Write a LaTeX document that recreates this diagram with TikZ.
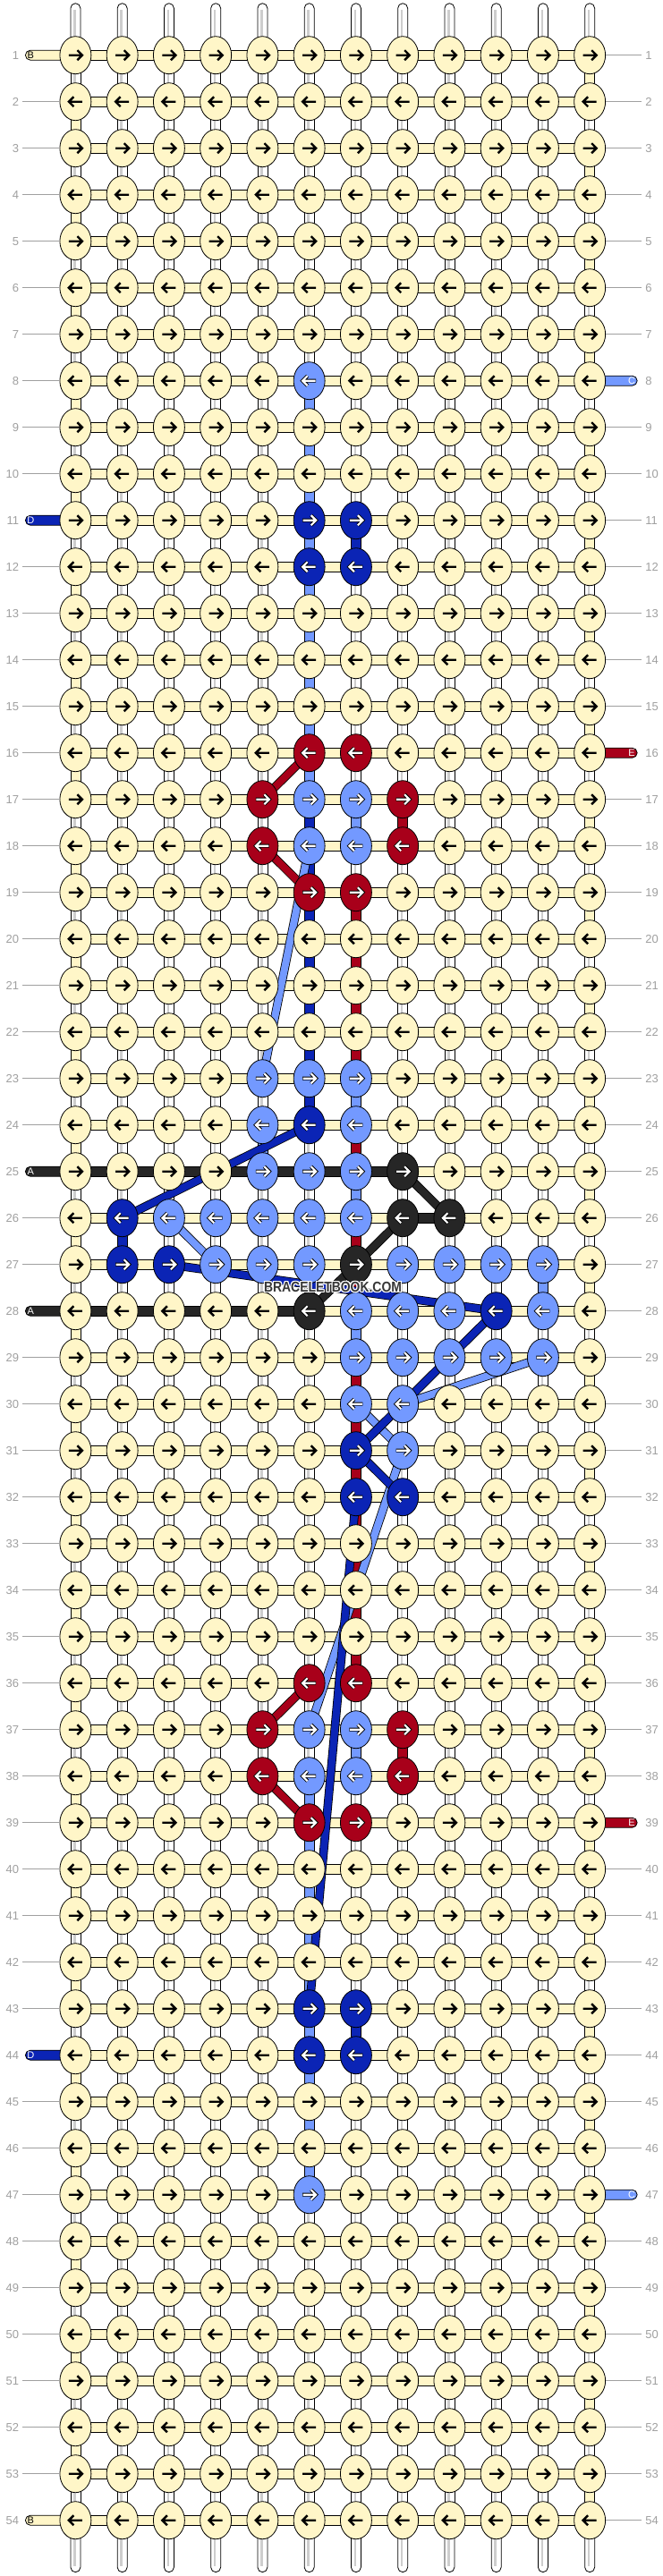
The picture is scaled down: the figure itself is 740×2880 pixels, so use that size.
\documentclass[tikz,border=0pt]{standalone}
\usepackage{fontspec}
\setmainfont{Liberation Sans}
\usetikzlibrary{calc,shapes.geometric}
\definecolor{knotY}{RGB}{255,246,200}
\definecolor{knotL}{RGB}{115,153,255}
\definecolor{knotD}{RGB}{11,36,181}
\definecolor{knotR}{RGB}{168,0,26}
\definecolor{knotK}{RGB}{38,38,38}
\definecolor{labelColor}{RGB}{160,160,160}
\definecolor{stringColor}{RGB}{205,205,205}
\definecolor{markColor}{RGB}{55,55,55}
\newcommand{\setcolors}[3]{%
  \foreach \rr/\cc in {#3}{\expandafter\xdef\csname #1-\rr-\cc\endcsname{#2}}}
\setcolors{kn}{knotL}{8/6,17/6,17/7,18/6,18/7,23/5,23/6,23/7,24/5,24/7,25/5,25/6,25/7,26/3,26/4,26/5,26/6,26/7,27/4,27/5,27/6,27/8,27/9,27/10,27/11,28/7,28/8,28/9,28/11,29/7,29/8,29/9,29/10,29/11,30/7,30/8,31/8,37/6,37/7,38/6,38/7,47/6}
\setcolors{kn}{knotD}{11/6,11/7,12/6,12/7,24/6,26/2,27/2,27/3,28/10,31/7,32/7,32/8,43/6,43/7,44/6,44/7}
\setcolors{kn}{knotR}{16/6,16/7,17/5,17/8,18/5,18/8,19/6,19/7,36/6,36/7,37/5,37/8,38/5,38/8,39/6,39/7}
\setcolors{kn}{knotK}{25/8,26/8,26/9,27/7,28/6}
\setcolors{hc}{knotK}{25/1,25/2,25/3,25/4,25/5,25/6,25/7,26/8,28/1,28/2,28/3,28/4,28/5}
\setcolors{vc}{knotL}{8/6,9/6,10/6,11/6,12/6,13/6,14/6,15/6,16/6,17/7,23/7,25/7,28/7,24/5,27/11,37/7,38/6,39/6,40/6,41/6,42/6,43/6,44/6,45/6,46/6}
\setcolors{vc}{knotD}{17/6,18/6,19/6,20/6,21/6,22/6,23/6,11/7,43/7,26/2}
\setcolors{vc}{knotR}{17/8,37/8,19/7,20/7,21/7,22/7,24/7,26/7,27/7,29/7,30/7,31/7,32/7,33/7,34/7,35/7}
\def\nonename{none}
\def\yname{knotY}
\begin{document}
\begin{tikzpicture}[x=1pt,y=-1pt,
  knotnode/.style={ellipse,draw=black,line width=0.8pt,minimum width=35pt,minimum height=42pt,inner sep=0pt},
  barline/.style={draw=black,line width=0.8pt},
  strand/.style={draw=black,line width=9.6pt,postaction={draw=#1,line width=8pt}},
  arrowline/.style={line width=2.4pt,line join=miter,miter limit=4},
  rowlabel/.style={text=labelColor,font=\fontsize{13}{13}\selectfont,inner sep=0pt},
  leader/.style={draw=labelColor,line width=0.8pt},
  tabtext/.style={font=\fontsize{11}{11}\selectfont,inner sep=0pt},
  watermark/.style={font=\fontsize{16}{16}\bfseries\selectfont,xscale=0.87,text=markColor,inner sep=0pt}]
\fill[white] (0,0) rectangle (740,2880);
\useasboundingbox (0,0) rectangle (740,2880);

\foreach \i in {1,...,54}{
  \foreach \j in {1,...,12}{
    \coordinate (p-\i-\j) at ({84.4+52.25*(\j-1)},{61.7+52*(\i-1)});
  }
}

\foreach \j in {1,...,12}{
  \draw[barline,fill=white,rounded corners=5.5pt] ($(p-1-\j)+(-5.5,-58)$) rectangle ($(p-1-\j)+(5.5,-10)$);
  \draw[stringColor,line width=2.5pt] ($(p-1-\j)+(-1,-51)$) -- ($(p-1-\j)+(-1,-12)$);
  \draw[barline,fill=white,rounded corners=5.5pt] ($(p-54-\j)+(-5.5,10)$) rectangle ($(p-54-\j)+(5.5,58)$);
  \draw[stringColor,line width=2.5pt] ($(p-54-\j)+(-1,12)$) -- ($(p-54-\j)+(-1,51)$);
}

\foreach \i in {1,...,53}{
  \pgfmathtruncatemacro\ii{\i+1}
  \foreach \j in {1,...,12}{
    \def\vcol{none}
    \ifodd\i\relax
      \ifnum\j=12\relax\def\vcol{knotY}\fi
    \else
      \ifnum\j=1\relax\def\vcol{knotY}\fi
    \fi
    \ifcsname vc-\i-\j\endcsname\edef\vcol{\csname vc-\i-\j\endcsname}\fi
    \ifx\vcol\nonename
      \draw[barline,fill=white] ($(p-\i-\j)+(-5.5,0)$) rectangle ($(p-\ii-\j)+(5.5,0)$);
      \draw[stringColor,line width=2.5pt] ($(p-\i-\j)+(-1,0)$) -- ($(p-\ii-\j)+(-1,0)$);
    \else
      \draw[barline,fill=\vcol] ($(p-\i-\j)+(-5.5,0)$) rectangle ($(p-\ii-\j)+(5.5,0)$);
    \fi
  }
}

\foreach \i in {1,...,54}{
  \foreach \j in {1,...,11}{
    \pgfmathtruncatemacro\jj{\j+1}
    \ifcsname hc-\i-\j\endcsname\edef\hcol{\csname hc-\i-\j\endcsname}\else\def\hcol{knotY}\fi
    \draw[barline,fill=\hcol] ($(p-\i-\j)+(0,-5.5)$) rectangle ($(p-\i-\jj)+(0,5.5)$);
  }
}

\foreach \i/\tcol/\tlet/\lcol in {1/knotY/B/black,11/knotD/D/white,25/knotK/A/white,28/knotK/A/white,44/knotD/D/white,54/knotY/B/black}{
  \expandafter\xdef\csname lt-\i\endcsname{1}
  \draw[barline,fill=\tcol,rounded corners=5.5pt] ($(p-\i-1)+(-56,-5.5)$) rectangle ($(p-\i-1)+(0,5.5)$);
  \node[tabtext,text=\lcol] (lt-\i) at ($(p-\i-1)+(-50,0)$) {\tlet};
}
\foreach \i/\tcol/\tlet/\lcol in {8/knotL/C/white,16/knotR/E/white,39/knotR/E/white,47/knotL/C/white}{
  \expandafter\xdef\csname rt-\i\endcsname{1}
  \draw[barline,fill=\tcol,rounded corners=5.5pt] ($(p-\i-12)+(0,-5.5)$) rectangle ($(p-\i-12)+(53,5.5)$);
  \node[tabtext,text=\lcol] (rt-\i) at ($(p-\i-12)+(47,0)$) {\tlet};
}

\foreach \ra/\ca/\rb/\cb/\sc in {16/6/17/5/knotR,18/5/19/6/knotR,36/6/37/5/knotR,38/5/39/6/knotR,
    18/6/23/5/knotL,26/3/27/4/knotL,29/11/30/8/knotL,30/7/31/8/knotL,31/8/37/6/knotL,
    24/6/26/2/knotD,27/3/28/10/knotD,28/10/31/7/knotD,31/7/32/8/knotD,32/7/43/6/knotD,
    25/8/26/9/knotK,26/8/27/7/knotK,27/7/28/6/knotK}{
  \draw[strand=\sc] (p-\ra-\ca) -- (p-\rb-\cb);
}

\foreach \i in {1,...,54}{
  \foreach \j in {1,...,12}{
    \ifcsname kn-\i-\j\endcsname\edef\kc{\csname kn-\i-\j\endcsname}\else\def\kc{knotY}\fi
    \ifodd\i\relax\def\dir{1}\else\def\dir{-1}\fi
    \node[knotnode,fill=\kc] (k-\i-\j) at (p-\i-\j) {};
    \begin{scope}[shift={(k-\i-\j)},xscale=\dir]
      \ifx\kc\yname
        \draw[arrowline,black] (-7.5,0) -- (6.5,0) (2,-5.5) -- (7.5,0) -- (2,5.5);
      \else
        \draw[arrowline,black,line width=4pt] (-7.5,0) -- (6.5,0) (2,-5.5) -- (7.5,0) -- (2,5.5);
        \draw[arrowline,white,line width=2.2pt] (-7,0) -- (6.5,0) (2,-5.5) -- (7.5,0) -- (2,5.5);
      \fi
    \end{scope}
  }
}

\foreach \i in {1,...,54}{
  \node[rowlabel,anchor=east] (ll-\i) at ($(p-\i-1)+(-63,0)$) {\i};
  \node[rowlabel,anchor=west] (rl-\i) at ($(p-\i-12)+(62,0)$) {\i};
  \ifcsname lt-\i\endcsname\else\draw[leader] (k-\i-1.west) -- ($(k-\i-1.west)+(-42,0)$);\fi
  \ifcsname rt-\i\endcsname\else\draw[leader] (k-\i-12.east) -- ($(k-\i-12.east)+(40,0)$);\fi
}

\coordinate (wm-c) at (372,1439);
\foreach \dx/\dy [count=\n] in {1/0,-1/0,0/1,0/-1,1/1,-1/-1,1/-1,-1/1}{
  \node[watermark,text=white] (wm-\n) at ($(wm-c)+(\dx,\dy)$) {BRACELETBOOK.COM};
}
\node[watermark] (wm) at (wm-c) {BRACELETBOOK.COM};
\end{tikzpicture}
\end{document}
